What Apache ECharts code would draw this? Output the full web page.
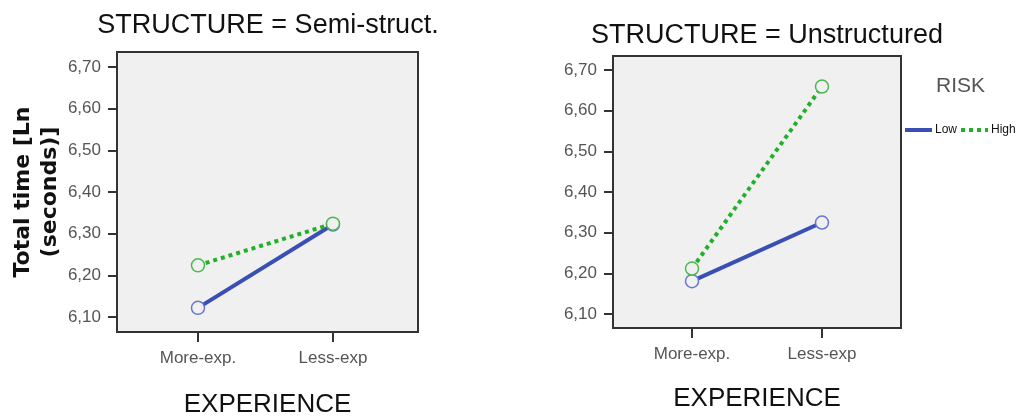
<!DOCTYPE html>
<html>
<head>
<meta charset="utf-8">
<script src="https://cdn.jsdelivr.net/npm/echarts@6/dist/echarts.min.js"></script>
<style>
  html, body { margin: 0; padding: 0; background: #fff; }
  #chart { width: 1025px; height: 417px; }
</style>
</head>
<body>
<div id="chart"></div>
<script>
// categories on the x axis
const experience = ["More-exp.", "Less-exp"];
// estimated means, Ln(seconds)
const semiLow = [6.122, 6.322];
const semiHigh = [6.224, 6.324];
const unstLow = [6.181, 6.325];
const unstHigh = [6.212, 6.659];
// y tick values
const yTicks = [6.1, 6.2, 6.3, 6.4, 6.5, 6.6, 6.7];

const FONT = "Liberation Sans";
const lowColor = "#3a4fb4";
const lowMarker = "#6676d2";
const highColor = "#22b02a";
const highMarker = "#4cb850";

const toPoints = (vals) => vals.map((v, i) => [i, v]);

function xAxisCfg(idx, min, max, gap) {
  return {
    type: "value",
    gridIndex: idx,
    min: min,
    max: max,
    name: "EXPERIENCE",
    nameLocation: "middle",
    nameGap: gap,
    nameTextStyle: { fontFamily: FONT, fontSize: 26, color: "#111" },
    axisLine: { show: true, onZero: false, lineStyle: { color: "#333", width: 2 } },
    splitLine: { show: false },
    axisTick: {
      show: true,
      customValues: [0, 1],
      length: 10,
      lineStyle: { color: "#333", width: 2 },
    },
    axisLabel: {
      customValues: [0, 1],
      margin: 18,
      fontFamily: FONT,
      fontSize: 17,
      color: "#555",
      formatter: (v) => experience[Math.round(v)] || "",
    },
  };
}

function yAxisCfg(idx, min, max) {
  return {
    type: "value",
    gridIndex: idx,
    min: min,
    max: max,
    axisLine: { show: true, onZero: false, lineStyle: { color: "#333", width: 2 } },
    splitLine: { show: false },
    axisTick: {
      show: true,
      customValues: yTicks,
      length: 9,
      lineStyle: { color: "#333", width: 2 },
    },
    axisLabel: {
      customValues: yTicks,
      margin: 16,
      fontFamily: FONT,
      fontSize: 17,
      color: "#555",
      formatter: (v) => v.toFixed(2).replace(".", ","),
    },
  };
}

function lineSeries(name, idx, vals, color, marker, dotted) {
  return {
    name: name,
    type: "line",
    xAxisIndex: idx,
    yAxisIndex: idx,
    data: toPoints(vals),
    symbol: "circle",
    symbolSize: 13,
    z: dotted ? 3 : 2,
    lineStyle: {
      color: color,
      width: 4,
      type: dotted ? [4, 4] : "solid",
      cap: "butt",
    },
    itemStyle: { color: "#f0f0f0", borderColor: marker, borderWidth: 1.5 },
  };
}

const chart = echarts.init(document.getElementById("chart"));
chart.setOption({
  animation: false,
  backgroundColor: "#fff",
  title: [
    {
      text: "STRUCTURE = Semi-struct.",
      left: 268,
      top: 12,
      padding: 0,
      textAlign: "center",
      textStyle: { fontFamily: FONT, fontSize: 27, fontWeight: "normal", color: "#111" },
    },
    {
      text: "STRUCTURE = Unstructured",
      left: 767,
      top: 22,
      padding: 0,
      textAlign: "center",
      textStyle: { fontFamily: FONT, fontSize: 27, fontWeight: "normal", color: "#111" },
    },
    {
      text: "RISK",
      left: 936,
      top: 76,
      padding: 0,
      textStyle: { fontFamily: FONT, fontSize: 21, fontWeight: "normal", color: "#555" },
    },
  ],
  legend: {
    left: 898,
    top: 119,
    itemWidth: 27,
    itemHeight: 10,
    itemGap: 2,
    data: ["Low", "High"],
    itemStyle: { opacity: 0 },
    lineStyle: { width: 4 },
    textStyle: { fontFamily: FONT, fontSize: 12, color: "#111", padding: [0, 0, 0, -2] },
  },
  grid: [
    {
      left: 117, top: 52, width: 301, height: 280,
      outerBoundsMode: "none",
      show: true, backgroundColor: "#f0f0f0", borderColor: "#333", borderWidth: 2,
    },
    {
      left: 613, top: 56, width: 288, height: 272,
      outerBoundsMode: "none",
      show: true, backgroundColor: "#f0f0f0", borderColor: "#333", borderWidth: 2,
    },
  ],
  xAxis: [xAxisCfg(0, -0.6, 1.63, 60), xAxisCfg(1, -0.608, 1.608, 58)],
  yAxis: [
    Object.assign(yAxisCfg(0, 6.064, 6.736), {
      name: "Total time [Ln\n(seconds)]",
      nameLocation: "middle",
      nameRotate: 90,
      nameGap: 50,
      nameTextStyle: {
        fontFamily: "DejaVu Sans",
        fontWeight: "bold",
        fontSize: 22,
        lineHeight: 27,
        color: "#111",
      },
    }),
    yAxisCfg(1, 6.066, 6.734),
  ],
  series: [
    lineSeries("Low", 0, semiLow, lowColor, lowMarker, false),
    lineSeries("High", 0, semiHigh, highColor, highMarker, true),
    lineSeries("Low", 1, unstLow, lowColor, lowMarker, false),
    lineSeries("High", 1, unstHigh, highColor, highMarker, true),
  ],
});
</script>
</body>
</html>
